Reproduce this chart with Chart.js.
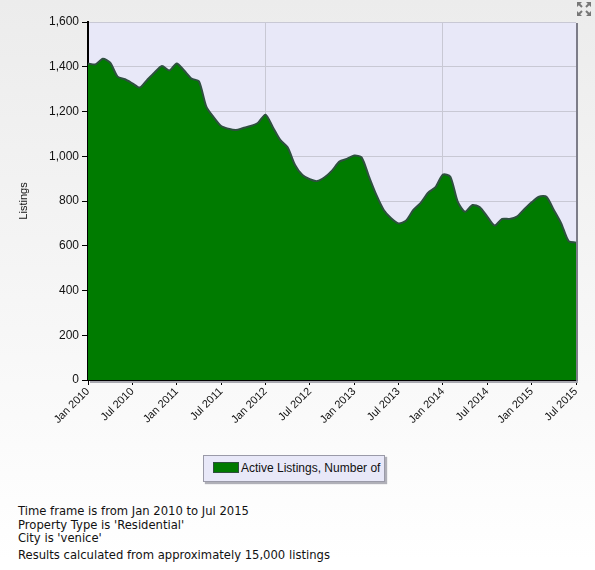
<!DOCTYPE html>
<html>
<head>
<meta charset="utf-8">
<script src="https://cdn.jsdelivr.net/npm/chart.js@4/dist/chart.umd.min.js"></script>
<style>
  html, body { margin: 0; padding: 0; }
  body {
    width: 595px; height: 570px; position: relative; overflow: hidden;
    background: linear-gradient(#ececec 0px, #f6f6f6 300px, #ffffff 560px);
    font-family: "Liberation Sans", Arial, sans-serif;
  }
  #wrap { position: absolute; left: 0; top: 0; width: 595px; height: 440px; }
  #legend {
    position: absolute; left: 203px; top: 455px; width: 180px; height: 25px;
    background: #e8e8f8; border: 1px solid #9a9aa8;
    box-shadow: 2px 2px 1px #b0b0b8;
    font-size: 12px; color: #111; line-height: 25px;
  }
  #legend .sw {
    display: inline-block; width: 24px; height: 9px; background: #007a00;
    border: 1px solid #2f4f3f; margin: 0 2px 0 9px; vertical-align: -1px;
  }
  #notes {
    position: absolute; left: 18px; top: 505px;
    font-family: "DejaVu Sans", Verdana, sans-serif; font-size: 11.6px; color: #111;
    line-height: 13.5px;
  }
  #notes .last { margin-top: 3px; }
  #zoomicon { position: absolute; left: 576px; top: 1px; }
</style>
</head>
<body>
<div id="wrap"><canvas id="grafico" width="595" height="440"></canvas></div>
<svg id="zoomicon" width="16" height="16" viewBox="0 0 16 16">
  <g stroke="#777" stroke-width="2" fill="none">
    <path d="M2 2 L6 6 M2 14 L6 10 M14 2 L10 6 M14 14 L10 10"/>
  </g>
  <g fill="#777">
    <path d="M1 1 H6 L1 6 Z M15 1 H10 L15 6 Z M1 15 H6 L1 10 Z M15 15 H10 L15 10 Z"/>
  </g>
</svg>
<div id="legend"><span class="sw"></span>Active Listings, Number of</div>
<div id="notes">
  <div>Time frame is from Jan 2010 to Jul 2015</div>
  <div>Property Type is 'Residential'</div>
  <div>City is 'venice'</div>
  <div class="last">Results calculated from approximately 15,000 listings</div>
</div>
<script>
// datos (mensual, Jan 2010 - Jul 2015)
const months = ['Jan', 'Feb', 'Mar', 'Apr', 'May', 'Jun', 'Jul', 'Aug', 'Sep', 'Oct', 'Nov', 'Dec'];
const years = [2010, 2011, 2012, 2013, 2014, 2015];

const listings2010 = [1415, 1410, 1436, 1418, 1356, 1344, 1326, 1307, 1341, 1374, 1403, 1383];
const listings2011 = [1415, 1383, 1347, 1335, 1222, 1174, 1135, 1123, 1117, 1126, 1135, 1150];
const listings2012 = [1186, 1130, 1073, 1040, 961, 916, 897, 889, 906, 936, 976, 988];
const listings2013 = [1003, 995, 909, 827, 760, 723, 700, 712, 760, 792, 837, 862];
const listings2014 = [918, 909, 797, 752, 782, 772, 730, 690, 720, 720, 730, 763];
const listings2015 = [794, 819, 819, 760, 700, 621, 614];

const yTicks = [0, 200, 400, 600, 800, 1000, 1200, 1400, 1600];

const activeListings = [].concat(listings2010, listings2011, listings2012,
  listings2013, listings2014, listings2015);
const labels = activeListings.map((v, i) => months[i % 12] + ' ' + years[Math.floor(i / 12)]);

// fondo del area del grafico + sombra del borde derecho
const plotBg = {
  id: 'plotBg',
  beforeDraw(chart) {
    const { ctx, chartArea: a } = chart;
    ctx.save();
    ctx.fillStyle = '#e8e8f8';
    ctx.fillRect(a.left, a.top, a.right - a.left, a.bottom - a.top);
    ctx.restore();
  },
  afterDraw(chart) {
    const { ctx, chartArea: a } = chart;
    ctx.save();
    ctx.fillStyle = '#7c7c88';
    ctx.fillRect(a.right, a.top + 1, 2, a.bottom - a.top);
    ctx.fillStyle = '#a8a8b0';
    ctx.fillRect(a.left + 2, a.bottom + 1, a.right - a.left, 2);
    ctx.restore();
  }
};

const ctx = document.getElementById('grafico').getContext('2d');
new Chart(ctx, {
  type: 'line',
  data: {
    labels: labels,
    datasets: [{
      label: 'Active Listings, Number of',
      data: activeListings,
      fill: 'origin',
      backgroundColor: '#007b00',
      borderColor: '#2f5040',
      borderWidth: 2,
      pointRadius: 0,
      tension: 0.25
    }]
  },
  options: {
    responsive: false,
    animation: false,
    layout: { padding: { left: 0, top: 22, right: 19, bottom: 0 } },
    plugins: { legend: { display: false }, tooltip: { enabled: false } },
    scales: {
      x: {
        type: 'category',
        offset: false,
        afterFit(s) { s.height = 60; },
        border: { color: '#000', width: 2 },
        grid: {
          drawOnChartArea: true,
          tickLength: 5,
          color: (c) => (c.index === 24 || c.index === 48) ? '#c8c8d4' : 'rgba(0,0,0,0)',
          tickColor: (c) => (c.index % 6 === 0) ? '#000' : 'rgba(0,0,0,0)'
        },
        ticks: {
          autoSkip: false,
          maxRotation: 45,
          minRotation: 45,
          padding: 0,
          color: '#111',
          font: { family: 'Liberation Sans', size: 11 },
          callback: (v, i) => (i % 6 === 0) ? labels[i] : ''
        }
      },
      y: {
        min: 0,
        max: 1600,
        afterFit(s) { s.width = 88; },
        afterBuildTicks(s) { s.ticks = yTicks.map(v => ({ value: v })); },
        border: { color: '#000', width: 2 },
        grid: { color: '#c8c8d4', tickColor: '#000', tickLength: 6 },
        ticks: {
          color: '#111',
          padding: 3,
          font: { family: 'Liberation Sans', size: 12 },
          callback: (v) => v.toLocaleString('en-US')
        },
        title: {
          display: true,
          text: 'Listings',
          color: '#111',
          padding: { top: 17, bottom: 0 },
          font: { family: 'Liberation Sans', size: 11 }
        }
      }
    }
  },
  plugins: [plotBg]
});
</script>
</body>
</html>
